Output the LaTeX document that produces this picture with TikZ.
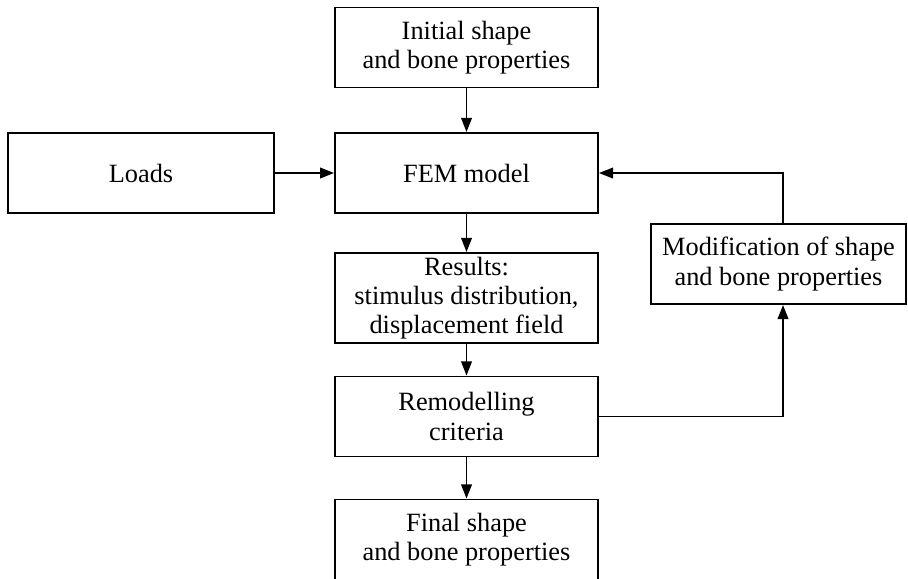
\documentclass[tikz,border=0pt]{standalone}
\usepackage{fontspec}
\setmainfont{Liberation Serif}
\usetikzlibrary{arrows.meta}

\tikzset{
  stagebox/.style={draw, line width=1.1pt, align=center, inner sep=0pt,
    minimum width=5.26cm, minimum height=1.6cm,
    font=\fontsize{15}{16.6}\selectfont},
  flowarrow/.style={line width=1.1pt, -{Triangle[length=8pt,width=6pt]}}
}

\begin{document}
\begin{tikzpicture}[x=0.02cm, y=-0.02cm]
\useasboundingbox (0,0) rectangle (908,578);
\clip (0,0) rectangle (908,578);

% main chain
\node[stagebox] (init) at (466.5,47.5) {Initial shape\\and bone properties};
\node[stagebox] (fem) at (466.5,173) {FEM model};
\node[stagebox, minimum width=5.32cm] (loads) at (141,173) {Loads};
\node[stagebox, minimum height=1.8cm] (results) at (466.5,298) {Results:\\stimulus distribution,\\displacement field};
\node[stagebox] (remod) at (466.5,416.5) {Remodelling\\criteria};
\node[stagebox, minimum width=5.1cm] (modif) at (778.5,264) {Modification of shape\\and bone properties};
\node[stagebox] (final) at (466.5,539.5) {Final shape\\and bone properties};

\draw[flowarrow] (init) -- (fem);
\draw[flowarrow] (loads) -- (fem);
\draw[flowarrow] (fem) -- (results);
\draw[flowarrow] (results) -- (remod);
\draw[flowarrow] (remod) -- (final);

% feedback loop
\draw[flowarrow] (remod.east) -| ([xshift=0.09cm]modif.south);
\draw[flowarrow] ([xshift=0.09cm]modif.north) |- (fem.east);
\end{tikzpicture}
\end{document}
